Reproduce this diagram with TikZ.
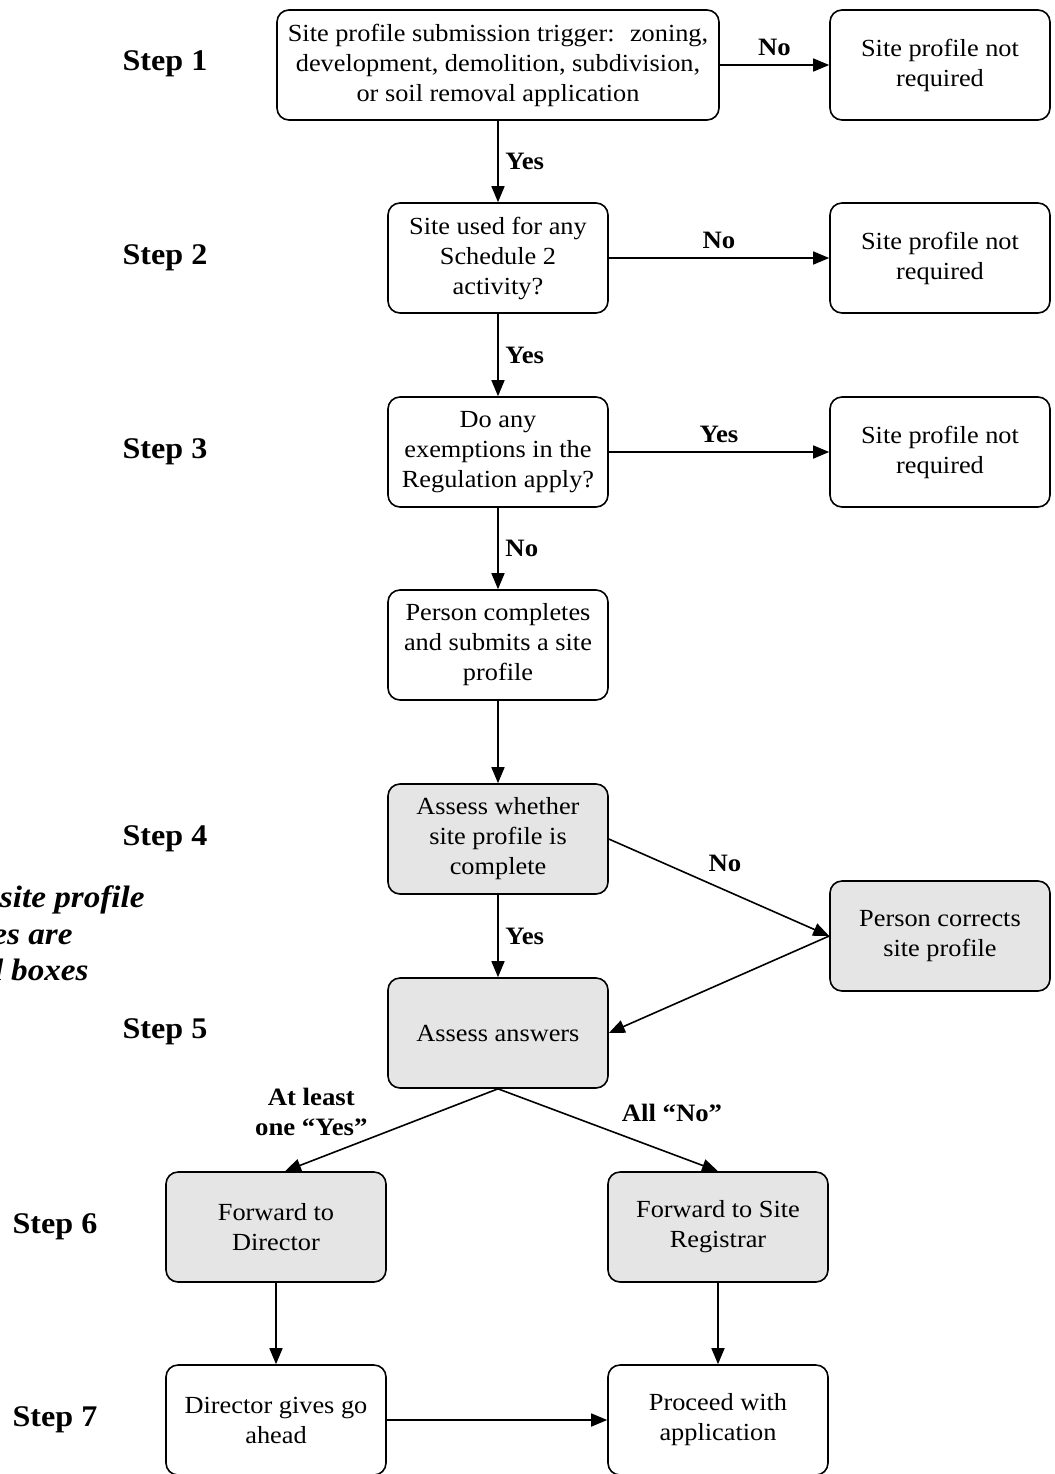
\documentclass[tikz,border=0pt]{standalone}
\usepackage{fontspec}
\setmainfont{Liberation Serif}[FakeStretch=1.07]
\usetikzlibrary{arrows.meta}
\begin{document}
\begin{tikzpicture}[x=0.5pt,y=-0.5pt,
  box/.style={draw, line width=0.8pt, rounded corners=6pt, minimum width=110pt, minimum height=55pt, align=center, inner sep=0pt, font=\fontsize{12.3}{15}\selectfont},
  wbox/.style={box, minimum width=221pt},
  shbox/.style={box, fill=gray!20},
  arr/.style={-{Triangle[length=8pt,width=6.5pt]}, line width=0.8pt},
  lab/.style={font=\bfseries\fontsize{12.5}{15}\selectfont, align=center},
  steplab/.style={font=\bfseries\fontsize{15}{16}\selectfont},
  notelab/.style={font=\bfseries\itshape\fontsize{15.5}{18}\selectfont, anchor=base east, inner sep=0pt}]
\useasboundingbox (0,0) rectangle (1055,1474);
\clip (0,0) rectangle (1055,1474);

% step labels
\node[steplab] (s1) at (165,64) {Step 1};
\node[steplab] (s2) at (165,258) {Step 2};
\node[steplab] (s3) at (165,452) {Step 3};
\node[steplab] (s4) at (165,839) {Step 4};
\node[steplab] (s5) at (165,1032) {Step 5};
\node[steplab] (s6) at (55,1227) {Step 6};
\node[steplab] (s7) at (55,1420) {Step 7};

% note (cut off at left edge)
\node[notelab] (note1) at (145,907) {Note: site profile};
\node[notelab] (note2) at (73,944) {processes are};
\node[notelab] (note3) at (89,980) {shaded boxes};

% boxes
\node[wbox] (b1) at (498,65) {Site profile submission trigger:~ zoning,\\development, demolition, subdivision,\\or soil removal application};
\node[box] (n1) at (940,65) {Site profile not\\required};
\node[box] (b2) at (498,258) {Site used for any\\Schedule 2\\activity?};
\node[box] (n2) at (940,258) {Site profile not\\required};
\node[box] (b3) at (498,452) {Do any\\exemptions in the\\Regulation apply?};
\node[box] (n3) at (940,452) {Site profile not\\required};
\node[box] (b4) at (498,645) {Person completes\\and submits a site\\profile};
\node[shbox] (b5) at (498,839) {Assess whether\\site profile is\\complete};
\node[shbox] (pc) at (940,936) {Person corrects\\site profile};
\node[shbox] (b6) at (498,1033) {Assess answers};
\node[shbox] (fd) at (276,1227) {Forward to\\Director};
\node[shbox] (fr) at (718,1227) {Forward to Site\\Registrar};
\node[box] (dg) at (276,1420) {Director gives go\\ahead};
\node[box] (pa) at (718,1420) {Proceed with\\application};

% connectors
\draw[arr] (b1) -- node[lab,right=0pt] {Yes} (b2);
\draw[arr] (b1) -- node[lab,above=1pt] {No} (n1);
\draw[arr] (b2) -- node[lab,above=1pt] {No} (n2);
\draw[arr] (b2) -- node[lab,right=0pt] {Yes} (b3);
\draw[arr] (b3) -- node[lab,above=1pt] {Yes} (n3);
\draw[arr] (b3) -- node[lab,right=0pt] {No} (b4);
\draw[arr] (b4) -- (b5);
\draw[arr] (b5) -- node[lab,right=0pt] {Yes} (b6);
\draw[arr] (b5.east) -- node[lab,above=4pt,xshift=3pt] {No} (pc.west);
\draw[arr] (pc.west) -- (b6.east);
\draw[arr] (b6.south) -- node[lab,anchor=south east,pos=0.6,inner sep=1pt] {At least\\one “Yes”} ([xshift=4.5pt]fd.north);
\draw[arr] (b6.south) -- node[lab,anchor=south west,pos=0.55,inner sep=1pt,yshift=5pt] {All “No”} (fr.north);
\draw[arr] (fd) -- (dg);
\draw[arr] (fr) -- (pa);
\draw[arr] (dg) -- (pa);
\end{tikzpicture}
\end{document}
